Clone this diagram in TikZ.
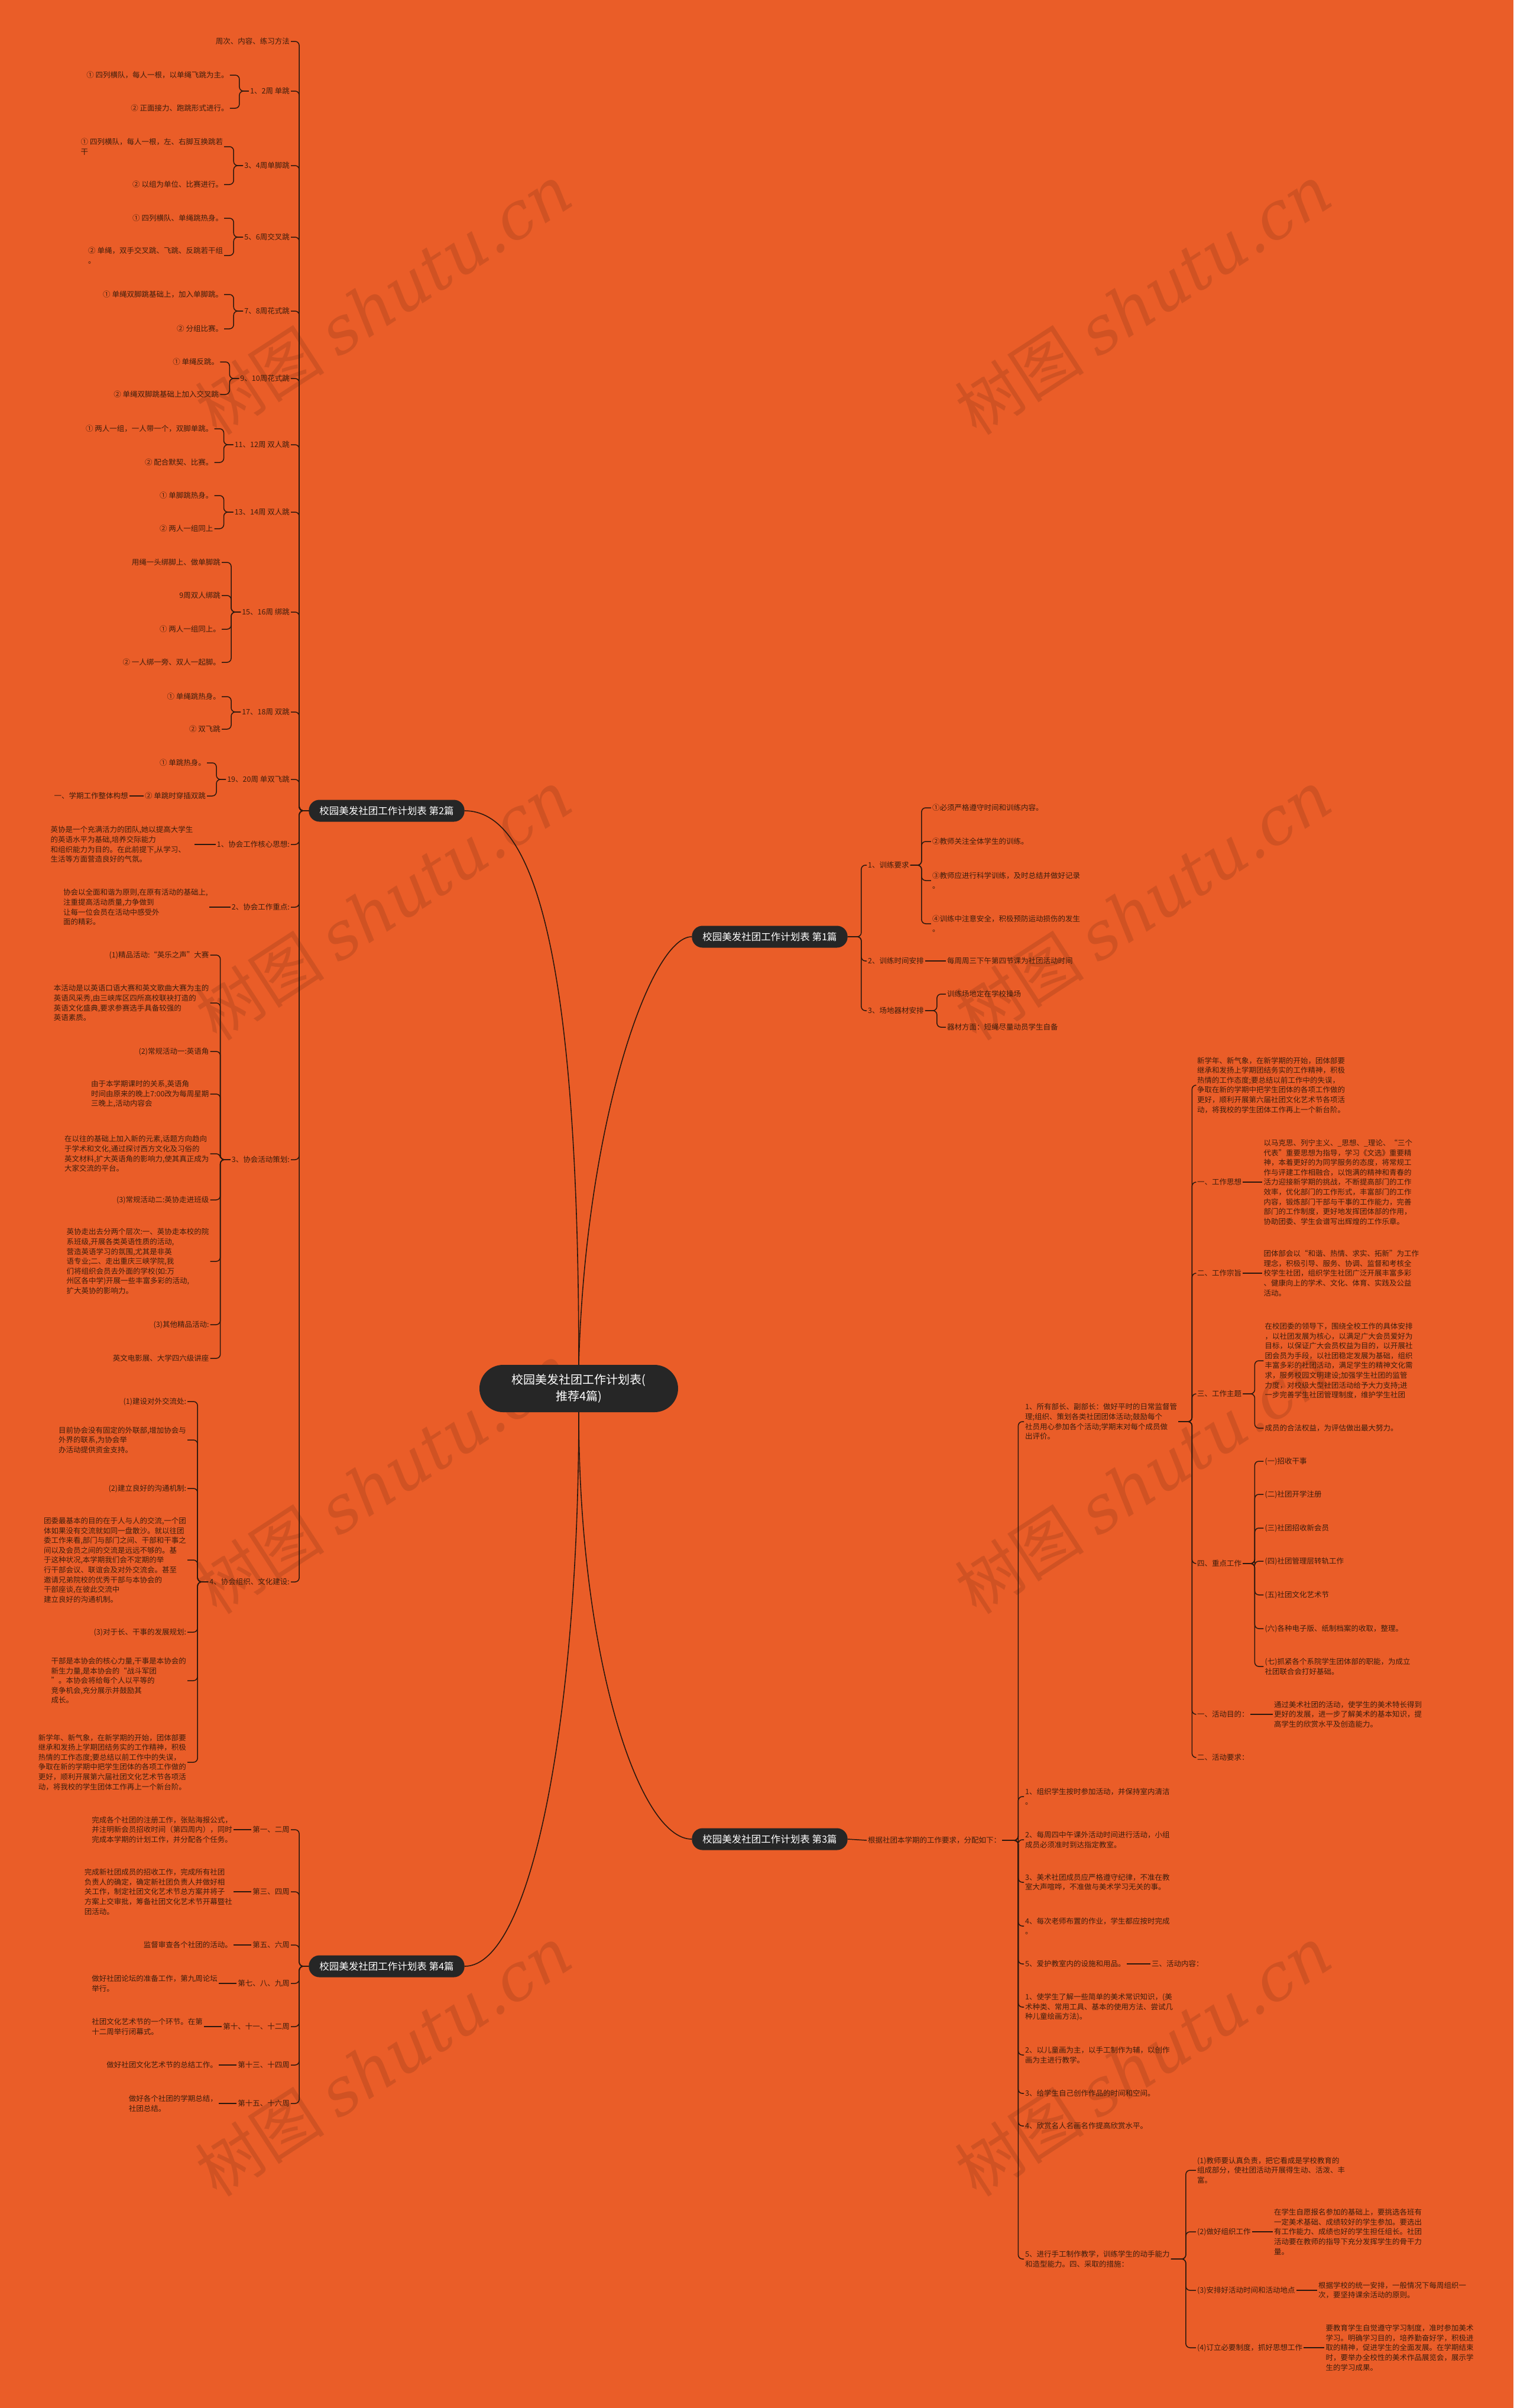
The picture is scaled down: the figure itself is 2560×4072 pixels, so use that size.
\documentclass[tikz,border=0pt]{standalone}
\usepackage{fontspec}
\setmainfont{Noto Sans CJK SC}
\newfontfamily\wmserif{DejaVu Serif}
\usetikzlibrary{calc}
\definecolor{bgorange}{RGB}{234,93,40}
\definecolor{nodedark}{RGB}{38,38,38}
\definecolor{linkdark}{RGB}{43,24,14}
\definecolor{leaftext}{RGB}{62,30,12}
\tikzset{
  link/.style={draw=linkdark, line width=1.5pt, rounded corners=7pt},
  trunk/.style={draw=linkdark, line width=1.6pt},
  rootnode/.style={fill=nodedark, text=white, rounded corners=40pt,
    minimum width=336pt, minimum height=80pt, align=center,
    font=\fontsize{20}{28}\selectfont},
  topic/.style={fill=nodedark, text=white, rounded corners=18pt,
    minimum height=37pt, inner xsep=18pt,
    font=\fontsize{16.5}{20}\selectfont},
  leaf/.style={text=leaftext, inner sep=2pt, align=left,
    font=\fontsize{12.5}{16.6}\selectfont},
  lleaf/.style={leaf, anchor=east},
  rleaf/.style={leaf, anchor=west},
  wmark/.style={text=black, opacity=0.11, rotate=33,
    font=\fontsize{110}{110}\selectfont}
}

\begin{document}
\begin{tikzpicture}[x=1pt,y=-1pt]
  \fill[bgorange] (0,0) rectangle (2560,4072);
  \useasboundingbox (0,0) rectangle (2560,4072);

  % watermarks
  \foreach \wx in {649,1934}
    \foreach \wy in {506,1530,2500,3485}
      \node[wmark] (wm-\wx-\wy) at (\wx,\wy) {树图 {\wmserif\itshape shutu.cn}};

  % centre and the four topics
  \node[rootnode] (root) at (979,2348) {校园美发社团工作计划表(\\推荐4篇)};
  \node[topic] (b1) at (1302,1584) {校园美发社团工作计划表 第1篇};
  \node[topic] (b2) at (654,1371) {校园美发社团工作计划表 第2篇};
  \node[topic] (b3) at (1302,3110) {校园美发社团工作计划表 第3篇};
  \node[topic] (b4) at (654,3325) {校园美发社团工作计划表 第4篇};

  \draw[trunk] (root.north) .. controls (979,1600) and (900,1371) .. (b2.east);
  \draw[trunk] (root.north) .. controls (990,1900) and (1100,1584) .. (b1.west);
  \draw[trunk] (root.south) .. controls (979,2800) and (1080,3110) .. (b3.west);
  \draw[trunk] (root.south) .. controls (979,2900) and (900,3325) .. (b4.east);

  % ---------- 第2篇 ----------
  \node[lleaf] (wk0) at (492,70) {周次、内容、练习方法};
  \node[lleaf] (wk1) at (492,154) {1、2周 单跳};
  \node[lleaf] (wk2) at (492,280) {3、4周单脚跳};
  \node[lleaf] (wk3) at (492,401) {5、6周交叉跳};
  \node[lleaf] (wk4) at (492,526) {7、8周花式跳};
  \node[lleaf] (wk5) at (492,640) {9、10周花式跳};
  \node[lleaf] (wk6) at (492,752) {11、12周 双人跳};
  \node[lleaf] (wk7) at (492,866) {13、14周 双人跳};
  \node[lleaf] (wk8) at (492,1035) {15、16周 绑跳};
  \node[lleaf] (wk9) at (492,1204) {17、18周 双跳};
  \node[lleaf] (wk10) at (492,1318) {19、20周 单双飞跳};
  \node[lleaf] (hx1) at (492,1428) {1、协会工作核心思想:};
  \node[lleaf] (hx2) at (492,1534) {2、协会工作重点:};
  \node[lleaf] (hx3) at (492,1961) {3、协会活动策划:};
  \node[lleaf] (hx4) at (492,2675) {4、协会组织、文化建设:};

  \foreach \c in {wk0,wk1,wk2,wk3,wk4,wk5,wk6,wk7,wk8,wk9,wk10,hx1,hx2,hx3,hx4}
    \draw[link] (b2.west) -- ++(-16,0) |- (\c.east);

  \node[lleaf,xshift=-32pt] (wk1a) at (wk1.west |- 0,127) {① 四列横队，每人一根，以单绳飞跳为主。};
  \node[lleaf,xshift=-32pt] (wk1b) at (wk1.west |- 0,183) {② 正面接力、跑跳形式进行。};
  \node[lleaf,xshift=-32pt] (wk2a) at (wk2.west |- 0,248) {① 四列横队，每人一根，左、右脚互换跳若\\干};
  \node[lleaf,xshift=-32pt] (wk2b) at (wk2.west |- 0,312) {② 以组为单位、比赛进行。};
  \node[lleaf,xshift=-32pt] (wk3a) at (wk3.west |- 0,369) {① 四列横队、单绳跳热身。};
  \node[lleaf,xshift=-32pt] (wk3b) at (wk3.west |- 0,432) {② 单绳，双手交叉跳、飞跳、反跳若干组\\。};
  \node[lleaf,xshift=-32pt] (wk4a) at (wk4.west |- 0,498) {① 单绳双脚跳基础上，加入单脚跳。};
  \node[lleaf,xshift=-32pt] (wk4b) at (wk4.west |- 0,556) {② 分组比赛。};
  \node[lleaf,xshift=-32pt] (wk5a) at (wk5.west |- 0,612) {① 单绳反跳。};
  \node[lleaf,xshift=-32pt] (wk5b) at (wk5.west |- 0,667) {② 单绳双脚跳基础上加入交叉跳};
  \node[lleaf,xshift=-32pt] (wk6a) at (wk6.west |- 0,725) {① 两人一组，一人带一个，双脚单跳。};
  \node[lleaf,xshift=-32pt] (wk6b) at (wk6.west |- 0,782) {② 配合默契、比赛。};
  \node[lleaf,xshift=-32pt] (wk7a) at (wk7.west |- 0,838) {① 单脚跳热身。};
  \node[lleaf,xshift=-32pt] (wk7b) at (wk7.west |- 0,894) {② 两人一组同上};
  \node[lleaf,xshift=-32pt] (wk8a) at (wk8.west |- 0,951) {用绳一头绑脚上、做单脚跳};
  \node[lleaf,xshift=-32pt] (wk8b) at (wk8.west |- 0,1007) {9周双人绑跳};
  \node[lleaf,xshift=-32pt] (wk8c) at (wk8.west |- 0,1064) {① 两人一组同上。};
  \node[lleaf,xshift=-32pt] (wk8d) at (wk8.west |- 0,1120) {② 一人绑一旁、双人一起脚。};
  \node[lleaf,xshift=-32pt] (wk9a) at (wk9.west |- 0,1178) {① 单绳跳热身。};
  \node[lleaf,xshift=-32pt] (wk9b) at (wk9.west |- 0,1233) {② 双飞跳};
  \node[lleaf,xshift=-32pt] (wk10a) at (wk10.west |- 0,1290) {① 单跳热身。};
  \node[lleaf,xshift=-32pt] (wk10b) at (wk10.west |- 0,1346) {② 单跳时穿插双跳};
  \node[lleaf,xshift=-24pt] (plan) at (wk10b.west) {一、学期工作整体构想};

  \foreach \p/\s in {wk1/a,wk1/b,wk2/a,wk2/b,wk3/a,wk3/b,wk4/a,wk4/b,wk5/a,wk5/b,
      wk6/a,wk6/b,wk7/a,wk7/b,wk8/a,wk8/b,wk8/c,wk8/d,wk9/a,wk9/b,wk10/a,wk10/b}
    \draw[link] (\p.west) -- ++(-16,0) |- (\p\s.east);
  \draw[link] (wk10b.west) -- (plan.east);

  \node[lleaf,xshift=-36pt] (hx1t) at (hx1.west) {英协是一个充满活力的团队,她以提高大学生\\的英语水平为基础,培养交际能力\\和组织能力为目的。在此前提下,从学习、\\生活等方面营造良好的气氛。};
  \node[lleaf,xshift=-36pt] (hx2t) at (hx2.west) {协会以全面和谐为原则,在原有活动的基础上,\\注重提高活动质量,力争做到\\让每一位会员在活动中感受外\\面的精彩。};
  \draw[link] (hx1.west) -- (hx1t.east);
  \draw[link] (hx2.west) -- (hx2t.east);

  \node[lleaf,xshift=-34pt] (hx3a) at (hx3.west |- 0,1615) {(1)精品活动:“英乐之声”大赛};
  \node[lleaf,xshift=-34pt] (hx3b) at (hx3.west |- 0,1696) {本活动是以英语口语大赛和英文歌曲大赛为主的\\英语风采秀,由三峡库区四所高校联袂打造的\\英语文化盛典,要求参赛选手具备较强的\\英语素质。};
  \node[lleaf,xshift=-34pt] (hx3c) at (hx3.west |- 0,1778) {(2)常规活动一:英语角};
  \node[lleaf,xshift=-34pt] (hx3d) at (hx3.west |- 0,1850) {由于本学期课时的关系,英语角\\时间由原来的晚上7:00改为每周星期\\三晚上,活动内容会};
  \node[lleaf,xshift=-34pt] (hx3e) at (hx3.west |- 0,1951) {在以往的基础上加入新的元素,话题方向趋向\\于学术和文化,通过探讨西方文化及习俗的\\英文材料,扩大英语角的影响力,使其真正成为\\大家交流的平台。};
  \node[lleaf,xshift=-34pt] (hx3f) at (hx3.west |- 0,2029) {(3)常规活动二:英协走进班级};
  \node[lleaf,xshift=-34pt] (hx3g) at (hx3.west |- 0,2133) {英协走出去分两个层次:一、英协走本校的院\\系班级,开展各类英语性质的活动,\\营造英语学习的氛围,尤其是非英\\语专业;二、走出重庆三峡学院,我\\们将组织会员去外面的学校(如:万\\州区各中学)开展一些丰富多彩的活动,\\扩大英协的影响力。};
  \node[lleaf,xshift=-34pt] (hx3h) at (hx3.west |- 0,2240) {(3)其他精品活动:};
  \node[lleaf,xshift=-34pt] (hx3i) at (hx3.west |- 0,2297) {英文电影展、大学四六级讲座};
  \foreach \s in {a,b,c,d,e,f,g,h,i}
    \draw[link] (hx3.west) -- ++(-17,0) |- (hx3\s.east);

  \node[lleaf,xshift=-35pt] (hx4a) at (hx4.west |- 0,2370) {(1)建设对外交流处:};
  \node[lleaf,xshift=-35pt] (hx4b) at (hx4.west |- 0,2435) {目前协会没有固定的外联部,增加协会与\\外界的联系,为协会举\\办活动提供资金支持。};
  \node[lleaf,xshift=-35pt] (hx4c) at (hx4.west |- 0,2517) {(2)建立良好的沟通机制:};
  \node[lleaf,xshift=-35pt] (hx4d) at (hx4.west |- 0,2638) {团委最基本的目的在于人与人的交流,一个团\\体如果没有交流就如同一盘散沙。就以往团\\委工作来看,部门与部门之间、干部和干事之\\间以及会员之间的交流是远远不够的。基\\于这种状况,本学期我们会不定期的举\\行干部会议、联谊会及对外交流会。甚至\\邀请兄弟院校的优秀干部与本协会的\\干部座谈,在彼此交流中\\建立良好的沟通机制。};
  \node[lleaf,xshift=-35pt] (hx4e) at (hx4.west |- 0,2760) {(3)对于长、干事的发展规划:};
  \node[lleaf,xshift=-35pt] (hx4f) at (hx4.west |- 0,2842) {干部是本协会的核心力量,干事是本协会的\\新生力量,是本协会的“战斗军团\\”。本协会将给每个人以平等的\\竞争机会,充分展示并鼓励其\\成长。};
  \node[lleaf,xshift=-35pt] (hx4g) at (hx4.west |- 0,2980) {新学年、新气象，在新学期的开始，团体部要\\继承和发扬上学期团结务实的工作精神，积极\\热情的工作态度;要总结以前工作中的失误，\\争取在新的学期中把学生团体的各项工作做的\\更好，顺利开展第六届社团文化艺术节各项活\\动，将我校的学生团体工作再上一个新台阶。};
  \foreach \s in {a,b,c,d,e,f,g}
    \draw[link] (hx4.west) -- ++(-18,0) |- (hx4\s.east);

  % ---------- 第4篇 ----------
  \node[lleaf] (s1) at (492,3094) {第一、二周};
  \node[lleaf] (s2) at (492,3199) {第三、四周};
  \node[lleaf] (s3) at (492,3289) {第五、六周};
  \node[lleaf] (s4) at (492,3354) {第七、八、九周};
  \node[lleaf] (s5) at (492,3427) {第十、十一、十二周};
  \node[lleaf] (s6) at (492,3492) {第十三、十四周};
  \node[lleaf] (s7) at (492,3557) {第十五、十六周};
  \foreach \c in {s1,s2,s3,s4,s5,s6,s7}
    \draw[link] (b4.west) -- ++(-16,0) |- (\c.east);

  \node[lleaf,xshift=-30pt] (s1t) at (s1.west) {完成各个社团的注册工作，张贴海报公式，\\并注明新会员招收时间（第四周内），同时\\完成本学期的计划工作，并分配各个任务。};
  \node[lleaf,xshift=-30pt] (s2t) at (s2.west) {完成新社团成员的招收工作，完成所有社团\\负责人的确定，确定新社团负责人并做好相\\关工作，制定社团文化艺术节总方案并将子\\方案上交审批，筹备社团文化艺术节开幕暨社\\团活动。};
  \node[lleaf,xshift=-30pt] (s3t) at (s3.west) {监督审查各个社团的活动。};
  \node[lleaf,xshift=-30pt] (s4t) at (s4.west) {做好社团论坛的准备工作，第九周论坛\\举行。};
  \node[lleaf,xshift=-30pt] (s5t) at (s5.west) {社团文化艺术节的一个环节。在第\\十二周举行闭幕式。};
  \node[lleaf,xshift=-30pt] (s6t) at (s6.west) {做好社团文化艺术节的总结工作。};
  \node[lleaf,xshift=-30pt] (s7t) at (s7.west) {做好各个社团的学期总结，\\社团总结。};
  \foreach \c in {s1,s2,s3,s4,s5,s6,s7}
    \draw[link] (\c.west) -- (\c t.east);

  % ---------- 第1篇 ----------
  \node[rleaf] (p1) at (1466,1463) {1、训练要求};
  \node[rleaf] (p2) at (1466,1625) {2、训练时间安排};
  \node[rleaf] (p3) at (1466,1709) {3、场地器材安排};
  \foreach \c in {p1,p2,p3}
    \draw[link] (b1.east) -- ++(23,0) |- (\c.west);

  \node[rleaf,xshift=35pt] (p1a) at (p1.east |- 0,1366) {①必须严格遵守时间和训练内容。};
  \node[rleaf,xshift=35pt] (p1b) at (p1.east |- 0,1423) {②教师关注全体学生的训练。};
  \node[rleaf,xshift=35pt] (p1c) at (p1.east |- 0,1489) {③教师应进行科学训练，及时总结并做好记录\\。};
  \node[rleaf,xshift=35pt] (p1d) at (p1.east |- 0,1562) {④训练中注意安全，积极预防运动损伤的发生\\。};
  \foreach \s in {a,b,c,d}
    \draw[link] (p1.east) -- ++(19,0) |- (p1\s.west);
  \node[rleaf,xshift=35pt] (p2a) at (p2.east) {每周周三下午第四节课为社团活动时间};
  \draw[link] (p2.east) -- (p2a.west);
  \node[rleaf,xshift=35pt] (p3a) at (p3.east |- 0,1681) {训练场地定在学校操场};
  \node[rleaf,xshift=35pt] (p3b) at (p3.east |- 0,1737) {器材方面：短绳尽量动员学生自备};
  \foreach \s in {a,b}
    \draw[link] (p3.east) -- ++(20,0) |- (p3\s.west);

  % ---------- 第3篇 ----------
  \node[rleaf] (q0) at (1466,3112) {根据社团本学期的工作要求，分配如下：};
  \draw[link] (b3.east) -- (q0.west);

  \node[rleaf] (qa) at (1732,2404) {1、所有部长、副部长：做好平时的日常监督管\\理;组织、策划各类社团团体活动;鼓励每个\\社员用心参加各个活动;学期末对每个成员做\\出评价。};
  \node[rleaf] (qb) at (1732,3038) {1、组织学生按时参加活动，并保持室内清洁\\。};
  \node[rleaf] (qc) at (1732,3111) {2、每周四中午课外活动时间进行活动，小组\\成员必须准时到达指定教室。};
  \node[rleaf] (qd) at (1732,3183) {3、美术社团成员应严格遵守纪律，不准在教\\室大声喧哗，不准做与美术学习无关的事。};
  \node[rleaf] (qe) at (1732,3257) {4、每次老师布置的作业，学生都应按时完成\\。};
  \node[rleaf] (qf) at (1732,3321) {5、爱护教室内的设施和用品。};
  \node[rleaf] (qg) at (1732,3394) {1、使学生了解一些简单的美术常识知识，(美\\术种类、常用工具、基本的使用方法、尝试几\\种儿童绘画方法)。};
  \node[rleaf] (qh) at (1732,3475) {2、以儿童画为主，以手工制作为辅，以创作\\画为主进行教学。};
  \node[rleaf] (qi) at (1732,3540) {3、给学生自己创作作品的时间和空间。};
  \node[rleaf] (qj) at (1732,3595) {4、欣赏名人名画名作提高欣赏水平。};
  \node[rleaf] (qk) at (1732,3820) {5、进行手工制作教学，训练学生的动手能力\\和造型能力。四、采取的措施：};
  \foreach \c in {qa,qb,qc,qd,qe,qf,qg,qh,qi,qj,qk}
    \draw[link] (q0.east) -- ++(27,0) |- (\c.west);

  \node[rleaf,xshift=40pt] (qf1) at (qf.east) {三、活动内容：};
  \draw[link] (qf.east) -- (qf1.west);

  % 1、所有部长 ...
  \node[rleaf] (a1) at (2023,1835) {新学年、新气象，在新学期的开始，团体部要\\继承和发扬上学期团结务实的工作精神，积极\\热情的工作态度;要总结以前工作中的失误，\\争取在新的学期中把学生团体的各项工作做的\\更好，顺利开展第六届社团文化艺术节各项活\\动，将我校的学生团体工作再上一个新台阶。};
  \node[rleaf] (a2) at (2023,1999) {一、工作思想};
  \node[rleaf] (a3) at (2023,2153) {二、工作宗旨};
  \node[rleaf] (a4) at (2023,2357) {三、工作主题};
  \node[rleaf] (a5) at (2023,2644) {四、重点工作};
  \node[rleaf] (a6) at (2023,2899) {一、活动目的：};
  \node[rleaf] (a7) at (2023,2972) {二、活动要求：};
  \foreach \c in {a1,a2,a3,a4,a5,a6,a7}
    \draw[link] (qa.east) -- ++(23,0) |- (\c.west);

  \node[rleaf,xshift=33pt] (a2t) at (a2.east) {以马克思、列宁主义、\_思想、\_理论、“三个\\代表”重要思想为指导，学习《文选》重要精\\神，本着更好的为同学服务的态度，将常规工\\作与评建工作相融合，以饱满的精神和青春的\\活力迎接新学期的挑战，不断提高部门的工作\\效率，优化部门的工作形式，丰富部门的工作\\内容，锻炼部门干部与干事的工作能力，完善\\部门的工作制度，更好地发挥团体部的作用，\\协助团委、学生会谱写出辉煌的工作乐章。};
  \node[rleaf,xshift=33pt] (a3t) at (a3.east) {团体部会以“和谐、热情、求实、拓新”为工作\\理念，积极引导、服务、协调、监督和考核全\\校学生社团，组织学生社团广泛开展丰富多彩\\、健康向上的学术、文化、体育、实践及公益\\活动。};
  \draw[link] (a2.east) -- (a2t.west);
  \draw[link] (a3.east) -- (a3t.west);

  \node[rleaf,xshift=35pt] (a4a) at (a4.east |- 0,2301) {在校团委的领导下，围绕全校工作的具体安排\\，以社团发展为核心，以满足广大会员爱好为\\目标，以保证广大会员权益为目的，以开展社\\团会员为手段，以社团稳定发展为基础，组织\\丰富多彩的社团活动，满足学生的精神文化需\\求，服务校园文明建设;加强学生社团的监管\\力度，对校级大型社团活动给予大力支持;进\\一步完善学生社团管理制度，维护学生社团};
  \node[rleaf,xshift=35pt] (a4b) at (a4.east |- 0,2415) {成员的合法权益，为评估做出最大努力。};
  \foreach \s in {a,b}
    \draw[link] (a4.east) -- ++(20,0) |- (a4\s.west);

  \node[rleaf,xshift=35pt] (a5a) at (a5.east |- 0,2471) {(一)招收干事};
  \node[rleaf,xshift=35pt] (a5b) at (a5.east |- 0,2527) {(二)社团开学注册};
  \node[rleaf,xshift=35pt] (a5c) at (a5.east |- 0,2584) {(三)社团招收新会员};
  \node[rleaf,xshift=35pt] (a5d) at (a5.east |- 0,2640) {(四)社团管理层转轨工作};
  \node[rleaf,xshift=35pt] (a5e) at (a5.east |- 0,2697) {(五)社团文化艺术节};
  \node[rleaf,xshift=35pt] (a5f) at (a5.east |- 0,2754) {(六)各种电子版、纸制档案的收取，整理。};
  \node[rleaf,xshift=35pt] (a5g) at (a5.east |- 0,2818) {(七)抓紧各个系院学生团体部的职能，为成立\\社团联合会打好基础。};
  \foreach \s in {a,b,c,d,e,f,g}
    \draw[link] (a5.east) -- ++(20,0) |- (a5\s.west);

  \node[rleaf,xshift=38pt] (a6t) at (a6.east) {通过美术社团的活动，使学生的美术特长得到\\更好的发展，进一步了解美术的基本知识，提\\高学生的欣赏水平及创造能力。};
  \draw[link] (a6.east) -- (a6t.west);

  % 5、进行手工制作教学 ...
  \node[rleaf] (k1) at (2023,3670) {(1)教师要认真负责，把它看成是学校教育的\\组成部分，使社团活动开展得生动、活泼、丰\\富。};
  \node[rleaf] (k2) at (2023,3774) {(2)做好组织工作};
  \node[rleaf] (k3) at (2023,3873) {(3)安排好活动时间和活动地点};
  \node[rleaf] (k4) at (2023,3970) {(4)订立必要制度，抓好思想工作};
  \foreach \c in {k1,k2,k3,k4}
    \draw[link] (qk.east) -- ++(25,0) |- (\c.west);

  \node[rleaf,xshift=35pt] (k2t) at (k2.east) {在学生自愿报名参加的基础上，要挑选各班有\\一定美术基础、成绩较好的学生参加。要选出\\有工作能力、成绩也好的学生担任组长。社团\\活动要在教师的指导下充分发挥学生的骨干力\\量。};
  \node[rleaf,xshift=35pt] (k3t) at (k3.east) {根据学校的统一安排，一般情况下每周组织一\\次，要坚持课余活动的原则。};
  \node[rleaf,xshift=35pt] (k4t) at (k4.east) {要教育学生自觉遵守学习制度，准时参加美术\\学习。明确学习目的，培养勤奋好学，积极进\\取的精神，促进学生的全面发展。在学期结束\\时，要举办全校性的美术作品展览会，展示学\\生的学习成果。};
  \foreach \c in {k2,k3,k4}
    \draw[link] (\c.east) -- (\c t.west);
\end{tikzpicture}
\end{document}
